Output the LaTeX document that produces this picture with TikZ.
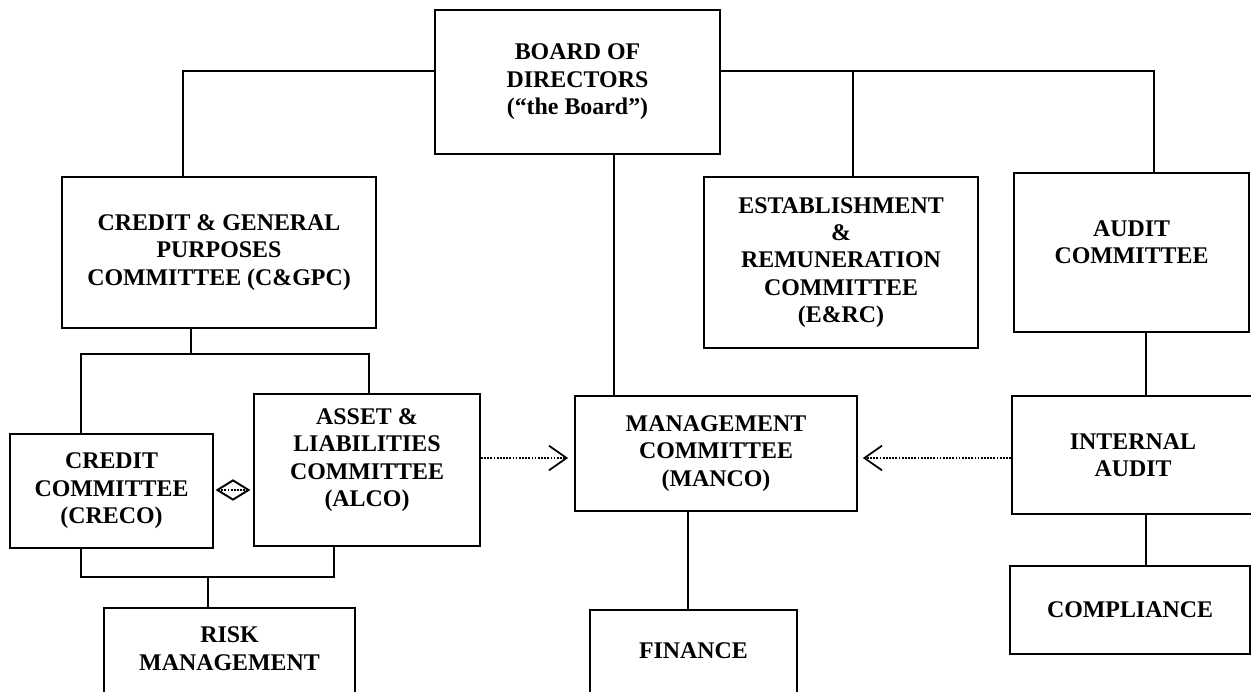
\documentclass[tikz,border=0pt]{standalone}
\usepackage{fontspec}
\setmainfont{Liberation Serif}
\usetikzlibrary{shapes,arrows.meta,positioning,calc}

\newcommand{\unitfont}{\bfseries\fontsize{13.6}{15.6}\selectfont}

\tikzset{
  unit/.style={draw, rectangle, line width=1.1pt, align=center, font=\unitfont, inner sep=2pt},
  link/.style={line width=1.1pt},
  report/.style={line width=1pt, dash pattern=on 1pt off 0.8pt,
    -{Straight Barb[length=10pt, width=14pt, line width=1pt]}},
}

\begin{document}
\begin{tikzpicture}[x=0.02cm, y=-0.02cm]
            \useasboundingbox (0,0) rectangle (1251,691);
            \clip (0,0) rectangle (1251,691);

            \node[unit, minimum width=5.7cm, minimum height=2.88cm] (board) at (577.5,82) {BOARD OF\\DIRECTORS\\(“the Board”)};
            \node[unit, minimum width=6.28cm, minimum height=3.02cm] (cgpc) at (219,252.5) {CREDIT \& GENERAL\\PURPOSES\\COMMITTEE (C\&GPC)};
            \node[unit, minimum width=5.48cm, minimum height=3.42cm] (erc) at (841,262.5) {ESTABLISHMENT\\\&\\REMUNERATION\\COMMITTEE\\(E\&RC)};
            \node[unit, minimum width=4.7cm, minimum height=3.18cm, text depth=0.42cm] (audit) at (1131.5,252.5) {AUDIT\\COMMITTEE};
            \node[unit, minimum width=4.06cm, minimum height=2.28cm] (creco) at (111.5,491) {CREDIT\\COMMITTEE\\(CRECO)};
            \node[unit, minimum width=4.52cm, minimum height=3.04cm, text depth=0.5cm] (alco) at (367,470) {ASSET \&\\LIABILITIES\\COMMITTEE\\(ALCO)};
            \node[unit, minimum width=5.64cm, minimum height=2.3cm] (manco) at (716,453.5) {MANAGEMENT\\COMMITTEE\\(MANCO)};
            \node[unit, minimum width=4.84cm, minimum height=2.36cm] (intaudit) at (1133,455) {INTERNAL\\AUDIT};
            \node[unit, minimum width=4.8cm, minimum height=1.76cm] (compliance) at (1130,610) {COMPLIANCE};
            \node[unit, minimum width=5.02cm, minimum height=2.28cm, text depth=0.66cm] (risk) at (229.5,665) {RISK\\MANAGEMENT};
            \node[unit, minimum width=4.14cm, minimum height=2.24cm, text depth=0.6cm] (finance) at (693.5,666) {FINANCE};
            \node[draw, diamond, line width=1.1pt, minimum width=0.64cm, minimum height=0.4cm, inner sep=0pt] (both) at (233,490) {};

            % joints of the connectors
            \coordinate (tl) at (183,71);
            \coordinate (tm) at (853,71);
            \coordinate (tr) at (1154,71);
            \coordinate (bm) at (614,0);
            \coordinate (cs) at (191,354);
            \coordinate (csl) at (81,354);
            \coordinate (csr) at (369,354);
            \coordinate (jl) at (81,577);
            \coordinate (jm) at (208,577);
            \coordinate (jr) at (334,577);
            \coordinate (ax) at (1146,0);
            \coordinate (mx) at (688,0);
            \coordinate (lvl) at (0,458);

            \draw[link] (board.west |- tl) -- (tl) -- (cgpc.north -| tl);
            \draw[link] (board.east |- tr) -- (tr) -- (audit.north -| tr);
            \draw[link] (tm) -- (erc.north -| tm);
            \draw[link] (board.south -| bm) -- (manco.north -| bm);

            \draw[link] (cgpc.south -| cs) -- (cs);
            \draw[link] (creco.north -| csl) -- (csl) -- (csr) -- (alco.north -| csr);
            \draw[link] (creco.south -| jl) -- (jl) -- (jr) -- (alco.south -| jr);
            \draw[link] (jm) -- (risk.north -| jm);

            \draw[link] (audit.south -| ax) -- (intaudit.north -| ax);
            \draw[link] (intaudit.south -| ax) -- (compliance.north -| ax);
            \draw[link] (manco.south -| mx) -- (finance.north -| mx);

            \draw[line width=1pt, dash pattern=on 1pt off 0.8pt, shorten <=3pt, shorten >=3pt] (both.west) -- (both.east);
            \draw[report, shorten >=3.4pt] (alco.east |- lvl) -- (manco.west |- lvl);
            \draw[report, shorten >=2.8pt] (intaudit.west |- lvl) -- (manco.east |- lvl);
        \end{tikzpicture}
\end{document}
